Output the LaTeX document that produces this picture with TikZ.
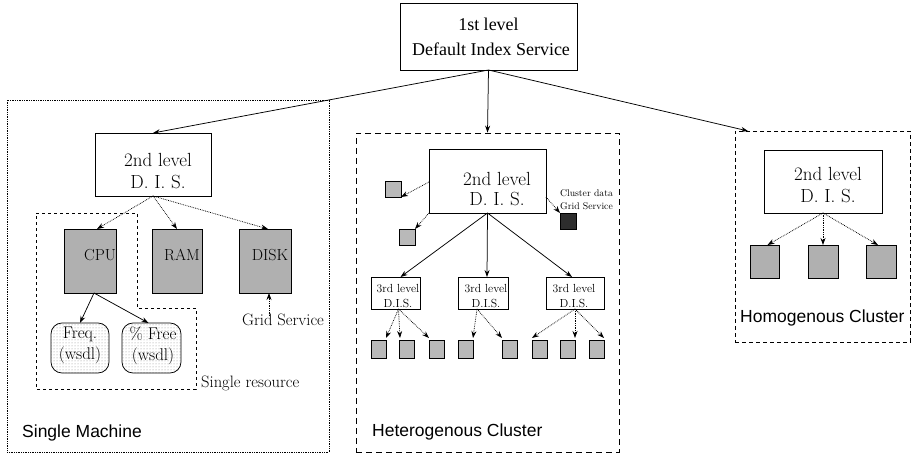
\documentclass[tikz,border=0pt]{standalone}
\usepackage{fontspec}
\newfontfamily\timesf{Liberation Serif}
\newfontfamily\helv{Liberation Sans}
\usetikzlibrary{arrows.meta,patterns}
\begin{document}
\begin{tikzpicture}[x=1pt,y=-1pt,
  arr/.style={-{Stealth[length=7pt,width=5pt]}, line width=0.75pt},
  darr/.style={arr, densely dotted},
  box/.style={draw, line width=0.75pt, inner sep=0pt, outer sep=0pt},
  resbox/.style={box, fill=gray!62},
  sqbox/.style={box, fill=gray!55, minimum width=15pt, minimum height=18pt},
  wsbox/.style={box, rounded corners=11pt, pattern=dots, pattern color=gray!90},
  big/.style={font=\fontsize{19}{22}\selectfont, align=center, inner sep=0pt},
  mid/.style={font=\fontsize{16.5}{21}\selectfont, align=center, inner sep=0pt},
  small/.style={font=\fontsize{11.7}{15}\selectfont, align=center, inner sep=0pt},
  tiny/.style={font=\fontsize{9.7}{13}\selectfont, align=center, inner sep=0pt},
  sans/.style={font=\helv\fontsize{17.5}{20}\selectfont, anchor=west, inner sep=0pt}
]
\useasboundingbox (0,0) rectangle (913,457);

% top box
\node[box, minimum width=177pt, minimum height=67pt, font=\timesf\fontsize{18}{25}\selectfont, align=center] (top) at (488.5,36.5) {1st level\\\hspace*{5pt}Default Index Service};

% ---------- Single machine ----------
\node[draw, densely dotted, line width=0.75pt, minimum width=322pt, minimum height=352pt, inner sep=0pt] (sm) at (168,276) {};
\node[sans] (smlab) at (22,433) {Single Machine};
\draw[dashed, line width=0.75pt] (36,213) -- (137,213) -- (137,308) -- (196,308) -- (196,389) -- (36,389) -- cycle;
\node[mid, anchor=west] (srlab) at (201,383) {Single resource};

\node[box, minimum width=116pt, minimum height=63pt] (l2a) at (153,164.5) {};
\node[big] (l2atext) at (158,171) {2nd level\\D. I. S.};

\node[resbox, minimum width=52pt, minimum height=64pt] (cpu) at (90,261) {};
\node[resbox, minimum width=50pt, minimum height=64pt] (ram) at (177,261) {};
\node[resbox, minimum width=52pt, minimum height=64pt] (disk) at (265,261) {};
\node[font=\fontsize{16}{18}\selectfont, inner sep=0pt] (cputext) at (100,255) {CPU};
\node[font=\fontsize{16}{18}\selectfont, inner sep=0pt] (ramtext) at (182,255) {RAM};
\node[font=\fontsize{16}{18}\selectfont, inner sep=0pt] (disktext) at (270,255) {DISK};

\node[wsbox, minimum width=58pt, minimum height=50pt] (freq) at (80,348) {};
\node[wsbox, minimum width=59pt, minimum height=50pt] (pfree) at (151.5,348) {};
\node[font=\fontsize{17}{21}\selectfont, align=center, inner sep=0pt] (freqtext) at (80,345.5) {Freq.\\(wsdl)};
\node[font=\fontsize{17}{21}\selectfont, align=center, inner sep=0pt] (pfreetext) at (153,345.5) {\% Free\\(wsdl)};

\node[mid] (gs) at (283,320) {Grid Service};

\draw[darr] (l2a.south) -- ([xshift=7pt]cpu.north);
\draw[darr] (l2a.south) -- (ram.north);
\draw[darr] (l2a.south) -- ([xshift=3pt]disk.north);
\draw[darr] ([xshift=-14pt,yshift=-2pt]gs.north) -- ([xshift=4pt]disk.south);
\draw[arr] ([xshift=4pt]cpu.south) -- (freq.north);
\draw[arr] ([xshift=4pt]cpu.south) -- ([xshift=-3pt]pfree.north);

% ---------- Heterogenous cluster ----------
\node[draw, dashed, dash pattern=on 6pt off 4pt, line width=0.75pt, minimum width=263pt, minimum height=319pt, inner sep=0pt] (het) at (487.5,292.5) {};
\node[sans] (hetlab) at (372,432) {Heterogenous Cluster};

\node[box, minimum width=117pt, minimum height=64pt] (h2) at (487.5,181) {};
\node[big, font=\fontsize{19}{20}\selectfont] (h2text) at (497,189) {2nd level\\D. I. S.};

\node[box, fill=gray!55, minimum width=16pt, minimum height=16pt] (s1) at (393,189) {};
\node[box, fill=gray!55, minimum width=16pt, minimum height=16pt] (s2) at (407,237) {};
\node[box, fill=gray!35!black, minimum width=16pt, minimum height=16pt] (dk) at (568,221) {};
\node[tiny] (cdlab) at (586.5,200) {Cluster data\\Grid Service};

\draw[darr] ([yshift=-1pt]h2.west) -- (s1.south east);
\draw[darr] (h2.south west) -- (s2.north east);
\draw[darr] ([yshift=-16pt]h2.east) -- (dk.north west);

\node[box, minimum width=49pt, minimum height=32pt] (t1) at (395.5,293) {};
\node[box, minimum width=50pt, minimum height=32pt] (t2) at (483,293) {};
\node[box, minimum width=58pt, minimum height=32pt] (t3) at (575,293) {};
\node[small] (t1text) at (398,296.5) {3rd level\\D.I.S.};
\node[small] (t2text) at (486,296.5) {3rd level\\D.I.S.};
\node[small] (t3text) at (574,296.5) {3rd level\\D.I.S.};

\draw[arr] (h2.south) -- ([xshift=5pt]t1.north);
\draw[arr] (h2.south) -- ([xshift=4pt]t2.north);
\draw[arr] (h2.south) -- ([xshift=-3pt]t3.north);

\node[sqbox] (b1) at (378.5,349) {};
\node[sqbox] (b2) at (406.5,349) {};
\node[sqbox] (b3) at (436.5,349) {};
\node[sqbox] (b4) at (465.5,349) {};
\node[sqbox] (b5) at (509.5,349) {};
\node[sqbox] (b6) at (539.5,349) {};
\node[sqbox] (b7) at (567.5,349) {};
\node[sqbox] (b8) at (596.5,349) {};

\draw[darr] ([xshift=3pt]t1.south) -- ([yshift=2pt]b1.north east);
\draw[darr] ([xshift=3pt]t1.south) -- ([xshift=1pt,yshift=2pt]b2.north west);
\draw[darr] ([xshift=3pt]t1.south) -- ([yshift=2pt]b3.north west);
\draw[darr] ([xshift=-6pt]t2.south) -- ([yshift=2pt]b4.north east);
\draw[darr] ([xshift=-6pt]t2.south) -- ([yshift=2pt]b5.north west);
\draw[darr] (t3.south) -- ([yshift=2pt]b6.north west);
\draw[darr] (t3.south) -- ([yshift=2pt]b7.north east);
\draw[darr] (t3.south) -- ([yshift=2pt]b8.north east);

% ---------- Homogenous cluster ----------
\node[draw, dashed, dash pattern=on 4pt off 3pt, line width=0.75pt, minimum width=175pt, minimum height=211pt, inner sep=0pt] (hom) at (822.5,236.5) {};
\node[sans] (homlab) at (740,318) {Homogenous Cluster};
\coordinate (hin) at (748,131);

\node[box, minimum width=118pt, minimum height=63pt] (h3) at (823,181.5) {};
\node[big] (h3text) at (828,185) {2nd level\\D. I. S.};

\node[resbox, minimum width=29pt, minimum height=33pt] (hs1) at (764.5,261.5) {};
\node[resbox, minimum width=30pt, minimum height=33pt] (hs2) at (823,261.5) {};
\node[resbox, minimum width=30pt, minimum height=33pt] (hs3) at (881,261.5) {};

\draw[darr] (h3.south) -- ([xshift=3pt]hs1.north);
\draw[darr] (h3.south) -- (hs2.north);
\draw[darr] (h3.south) -- ([xshift=-3pt]hs3.north);

% ---------- top-level arrows ----------
\draw[arr] (top.south) -- (l2a.north);
\draw[arr] (top.south) -- (het.north);
\draw[arr] (top.south) -- (hin);
\end{tikzpicture}
\end{document}
